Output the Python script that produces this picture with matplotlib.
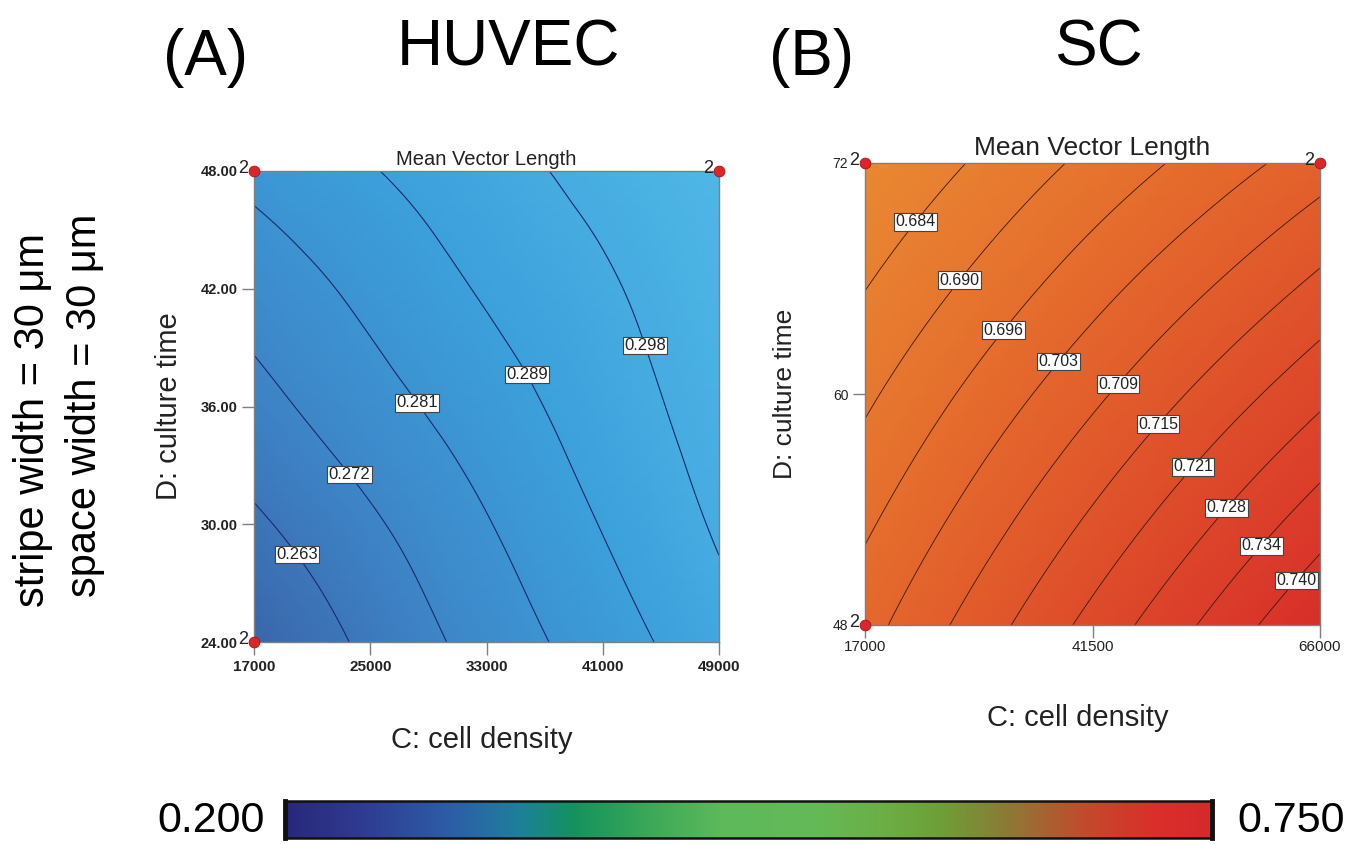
import numpy as np
import matplotlib
matplotlib.use('Agg')
import matplotlib.pyplot as plt
import matplotlib.tri as mtri
from matplotlib.colors import LinearSegmentedColormap

plt.rcParams['font.family'] = ['Liberation Sans', 'DejaVu Sans']

W, H = 1360, 844

# --- HUVEC: mean vector length on a 5x5 grid ---
huvec_density = [17000, 25000, 33000, 41000, 49000]
huvec_time = [24, 30, 36, 42, 48]
huvec_mvl = [
    [0.2546, 0.2653, 0.2754, 0.2850, 0.2945],
    [0.2620, 0.2708, 0.2801, 0.2896, 0.2988],
    [0.2692, 0.2772, 0.2852, 0.2934, 0.3015],
    [0.2756, 0.2828, 0.2901, 0.2966, 0.3040],
    [0.2828, 0.2887, 0.2946, 0.3005, 0.3065],
]
huvec_levels = [0.2634, 0.2720, 0.2806, 0.2892, 0.2978]
huvec_xticks = [17000, 25000, 33000, 41000, 49000]
huvec_yticks = [24, 30, 36, 42, 48]
huvec_yticklabels = ['24.00', '30.00', '36.00', '42.00', '48.00']
huvec_design_x = [17000, 49000, 17000]
huvec_design_y = [48, 48, 24]
huvec_runs = ['2', '2', '2']

# --- SC ---
sc_density = [17000, 29250, 41500, 53750, 66000]
sc_time = [48, 54, 60, 66, 72]
sc_mvl = [
    [0.7003, 0.7118, 0.7233, 0.7347, 0.7462],
    [0.6947, 0.7050, 0.7154, 0.7258, 0.7361],
    [0.6890, 0.6983, 0.7075, 0.7168, 0.7260],
    [0.6834, 0.6915, 0.6997, 0.7078, 0.7160],
    [0.6778, 0.6848, 0.6919, 0.6989, 0.7059],
]
sc_levels = [0.68400, 0.69022, 0.69644, 0.70266, 0.70888,
             0.71510, 0.72132, 0.72754, 0.73376, 0.73998]
sc_xticks = [17000, 41500, 66000]
sc_yticks = [48, 60, 72]
sc_yticklabels = ['48', '60', '72']
sc_design_x = [17000, 66000, 17000]
sc_design_y = [72, 72, 48]
sc_runs = ['2', '2', '2']

# where the contour labels sit
huvec_label_pos = [(19822, 28.4), (23331, 32.4), (28837, 36.5), (36201, 37.8), (44253, 39.2)]
sc_label_pos = [(22061, 69.1), (26477, 66.2), (31430, 63.5), (37354, 61.9), (43815, 60.7),
                (48015, 58.65), (51892, 56.4), (55446, 54.3), (59216, 52.3), (62984, 50.5)]

cbar_lo, cbar_hi = 0.200, 0.750

huvec_cmap = LinearSegmentedColormap.from_list('huvec', ['#3b66ab', '#3d86c8', '#3ca0db', '#4fb7e6'])
sc_cmap = LinearSegmentedColormap.from_list('sc', ['#e98832', '#e4682c', '#dd4a2a', '#d82e2a'])
bar_cmap = LinearSegmentedColormap.from_list('bar', [
    (0.00, '#28287a'), (0.08, '#2f3b90'), (0.18, '#2d5ea7'), (0.25, '#1e7f9c'),
    (0.31, '#14925e'), (0.39, '#3aa858'), (0.47, '#5db95b'), (0.57, '#64ba58'),
    (0.65, '#6cae44'), (0.71, '#6e9e38'), (0.78, '#8c7a36'), (0.87, '#c4482c'),
    (0.94, '#da2f2a'), (1.00, '#d52a2a')])


def ax_rect(left, top, right, bottom):
    return [left / W, 1 - bottom / H, (right - left) / W, (bottom - top) / H]


def smooth_surface(xs, ys, z):
    # triangulate in unit coordinates, refine with matplotlib's cubic refiner
    nx, ny = len(xs), len(ys)
    u, v = np.meshgrid(np.linspace(0, 1, nx), np.linspace(0, 1, ny))
    tris = []
    for j in range(ny - 1):
        for i in range(nx - 1):
            a = j * nx + i
            tris.append([a, a + 1, a + nx + 1])
            tris.append([a, a + nx + 1, a + nx])
    tri = mtri.Triangulation(u.ravel(), v.ravel(), tris)
    refiner = mtri.UniformTriRefiner(tri)
    tri_f, z_f = refiner.refine_field(np.asarray(z).ravel(), subdiv=4)
    x0, x1 = xs[0], xs[-1]
    y0, y1 = ys[0], ys[-1]
    tri_xy = mtri.Triangulation(x0 + tri_f.x * (x1 - x0), y0 + tri_f.y * (y1 - y0), tri_f.triangles)
    return tri_xy, z_f


def panel(ax, xs, ys, z, levels, cmap, line_color, line_width, label_pos, label_size,
          xticks, yticks, yticklabels, dx, dy, runs, title_size, title_pad, bold_ticks,
          ytick_size, ylabel_size):
    tri_xy, z_f = smooth_surface(xs, ys, z)
    ax.tripcolor(tri_xy, z_f, shading='gouraud', cmap=cmap)
    cs = ax.tricontour(tri_xy, z_f, levels=levels, colors=line_color, linewidths=line_width)
    labels = ax.clabel(cs, fmt='%.3f', manual=label_pos, inline=False, fontsize=label_size)
    for t in labels:
        t.set_rotation(0)
        t.set_color('#222222')
        t.set_bbox(dict(facecolor='white', edgecolor='#444444', linewidth=0.8, pad=1.0))
        t.set_zorder(6)

    ax.set_xlim(xs[0], xs[-1])
    ax.set_ylim(ys[0], ys[-1])
    for s in ax.spines.values():
        s.set_color('#7f7f7f')
        s.set_linewidth(1.0)

    weight = 'bold' if bold_ticks else 'normal'
    ax.set_xticks(xticks)
    ax.set_xticklabels([str(v) for v in xticks], fontweight=weight, fontsize=11)
    ax.set_yticks(yticks)
    ax.set_yticklabels(yticklabels, fontweight=weight, fontsize=ytick_size)
    ax.tick_params(axis='both', direction='out', length=9, width=1, color='#7f7f7f', colors='#222222')
    ax.tick_params(axis='x', pad=4)
    ax.tick_params(axis='y', pad=3)
    yt = ax.yaxis.get_major_ticks()
    yt[0].tick1line.set_visible(False)
    yt[-1].tick1line.set_visible(False)

    ax.scatter(dx, dy, s=60, color='#e0252a', edgecolors='#9e1515', linewidths=0.6,
               zorder=10, clip_on=False)
    for x, y, r in zip(dx, dy, runs):
        ax.annotate(r, (x, y), xytext=(-4, 1.5), textcoords='offset points',
                    ha='right', va='center', fontsize=13, color='#222222',
                    annotation_clip=False, zorder=10)

    ax.set_title('Mean Vector Length', fontsize=title_size, pad=title_pad, color='#222222')
    ax.set_xlabel('C: cell density', fontsize=21, color='#222222')
    ax.set_ylabel('D: culture time', fontsize=ylabel_size, color='#222222')


fig = plt.figure(figsize=(W / 100, H / 100), dpi=100)

ax1 = fig.add_axes(ax_rect(254, 171, 719, 642))
panel(ax1, huvec_density, huvec_time, huvec_mvl, huvec_levels, huvec_cmap, '#1b2a6b', 0.8,
      huvec_label_pos, 12, huvec_xticks, huvec_yticks, huvec_yticklabels,
      huvec_design_x, huvec_design_y, huvec_runs, 14.5, 4, True, 10.5, 21)
ax1.xaxis.set_label_coords(0.49, -0.178)
ax1.yaxis.set_label_coords(-0.152, 0.5)

ax2 = fig.add_axes(ax_rect(865, 163, 1320, 625))
panel(ax2, sc_density, sc_time, sc_mvl, sc_levels, sc_cmap, '#3a1a10', 0.6,
      sc_label_pos, 11.5, sc_xticks, sc_yticks, sc_yticklabels,
      sc_design_x, sc_design_y, sc_runs, 19, 6, False, 10, 19)
ax2.tick_params(axis='x', pad=2)
ax2.xaxis.set_label_coords(0.468, -0.17)
ax2.yaxis.set_label_coords(-0.15, 0.5)

# panel headings
fig.text(206 / W, 1 - 58 / H, '(A)', fontsize=46, ha='center', va='center')
fig.text(508 / W, 1 - 48 / H, 'HUVEC', fontsize=46, ha='center', va='center')
fig.text(812 / W, 1 - 58 / H, '(B)', fontsize=46, ha='center', va='center')
fig.text(1098 / W, 1 - 48 / H, 'SC', fontsize=46, ha='center', va='center')

# side note
fig.text(33 / W, 1 - 420 / H, 'stripe width = 30 \u03bcm', fontsize=30, rotation=90,
         ha='center', va='center')
fig.text(85 / W, 1 - 405 / H, 'space width = 30 \u03bcm', fontsize=30, rotation=90,
         ha='center', va='center')

# colour scale
cax = fig.add_axes(ax_rect(285, 801, 1212, 838))
grad = np.linspace(cbar_lo, cbar_hi, 512)[None, :]
cax.imshow(grad, aspect='auto', cmap=bar_cmap, vmin=cbar_lo, vmax=cbar_hi,
           extent=[cbar_lo, cbar_hi, 0, 1])
cax.set_xticks([])
cax.set_yticks([])
for side, s in cax.spines.items():
    s.set_color('#111111')
    s.set_linewidth(3.5 if side in ('left', 'right') else 1.8)
fig.text(265 / W, 1 - 821 / H, f'{cbar_lo:.3f}', fontsize=31, ha='right', va='center')
fig.text(1237 / W, 1 - 821 / H, f'{cbar_hi:.3f}', fontsize=31, ha='left', va='center')

fig.savefig('out.png', dpi=100)
